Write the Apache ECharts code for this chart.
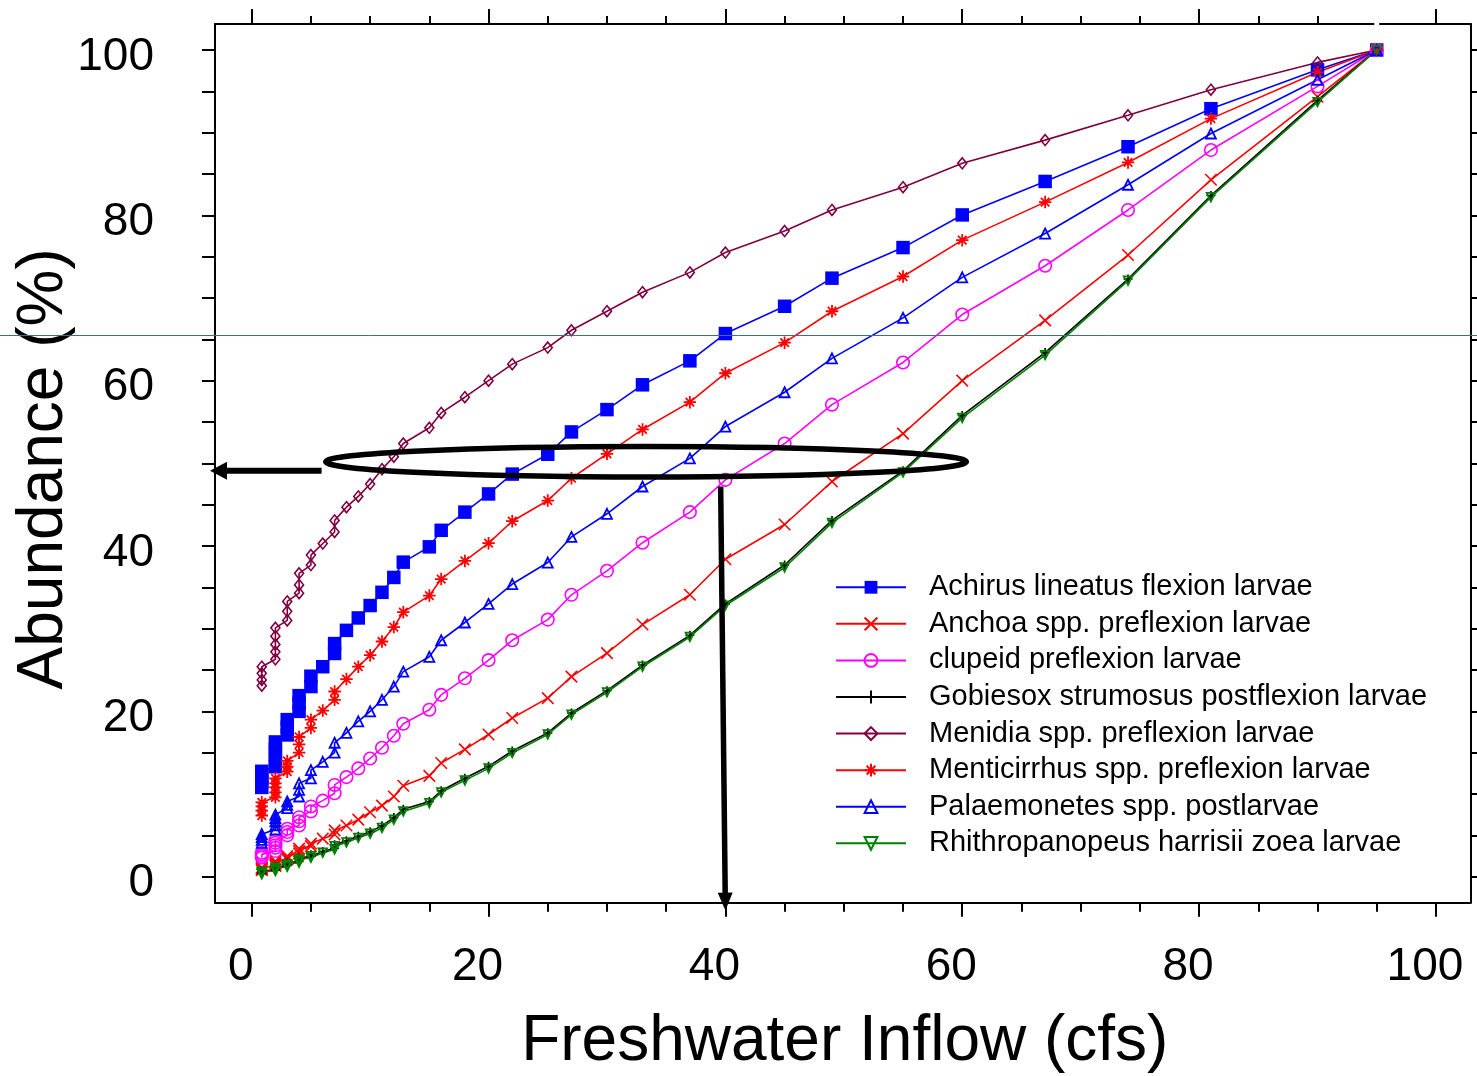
<!DOCTYPE html>
<html><head><meta charset="utf-8">
<script src="https://cdn.jsdelivr.net/npm/echarts@6/dist/echarts.min.js"></script>
<style>html,body{margin:0;padding:0;background:#fff}#c{width:1477px;height:1076px}</style>
</head><body><div id="c"></div>
<script>
// ---- data ----
const inflow = [0.85,0.85,0.85,0.85, 2,2,2,2,2, 3,3,3, 4,4,4, 5,5, 6, 7,7, 8, 9, 10, 11, 12, 12.8,
  15, 16, 18, 20, 22, 25, 27, 30, 33, 37, 40, 45, 49, 55, 60, 67, 74, 81, 90, 95];
const achirus = [10.8,11.5,12.1,12.75, 13.3,14.0,14.8,15.5,16.3, 17.15,18.1,19.0, 20.0,21.0,21.9, 23.0,24.25, 25.4, 27.0,28.2,
  29.8,31.3,32.8,34.4,36.2,38.05, 39.9,41.9,44.1,46.3,48.7,51.1,53.8,56.5,59.5,62.4, 65.7,69.0,72.4,76.1,80.05,84.1,88.3,92.9,97.6,100];
const anchoa = [0.8,0.9,1.0,1.1, 1.3,1.45,1.6,1.75,1.9, 2.1,2.3,2.5, 2.8,3.1,3.4, 3.7,4.0, 4.6, 5.1,5.6,
  6.2,6.9,7.8,8.6,9.7,11.0, 12.2,13.75,15.4,17.2,19.2,21.6,24.2,27.05,30.5,34.1, 38.4,42.6,47.8,53.6,60.0,67.3,75.2,84.3,94.35,100];
const clupeid = [2.3,2.5,2.7,2.9, 3.1,3.5,3.8,4.1,4.4, 5.0,5.4,5.8, 6.2,6.7,7.2, 7.9,8.5, 9.2, 10.1,11.1,
  12.05,13.1,14.3,15.6,17.05,18.5, 20.2,22.0,24.0,26.2,28.6,31.1,34.1,37.0,40.4,44.1, 48.0,52.4,57.1,62.2,68.0,73.9,80.65,87.9,95.6,100];
const gobiesox = [0.4,0.5,0.6,0.7, 0.8,0.9,1.0,1.1,1.2, 1.35,1.5,1.65, 1.85,2.05,2.25, 2.45,2.65, 3.05, 3.45,3.85,
  4.35,4.9,5.45,6.15,7.15,8.15, 9.1,10.4,11.9,13.35,15.2,17.4,19.8,22.5,25.6,29.2, 33.0,37.7,43.1,49.1,55.8,63.4,72.3,82.4,93.9,100];
const menidia = [23.1,23.8,24.6,25.4, 26.3,27.2,28.1,29.1,30.1, 31.0,32.1,33.3, 34.3,35.3,36.7, 37.7,38.9, 40.3, 41.7,43.1,
  44.7,46.0,47.5,49.3,50.8,52.4, 54.3,56.1,58.0,60.0,62.0,64.0,66.1,68.4,70.7,73.1, 75.5,78.1,80.65,83.4,86.3,89.1,92.1,95.2,98.5,100];
const menticirrhus = [7.4,8.0,8.5,9.0, 9.6,10.2,10.8,11.3,11.9, 12.7,13.3,14.0, 15.0,16.0,16.9, 18.0,19.0, 20.1, 21.4,22.4,
  23.9,25.4,26.8,28.45,30.2,32.0, 34.0,36.0,38.2,40.35,43.0,45.5,48.2,51.15,54.1,57.4, 60.9,64.6,68.4,72.6,77.0,81.6,86.4,91.7,97.3,100];
const palaemonetes = [4.1,4.45,4.8,5.15, 5.7,6.2,6.7,7.1,7.5, 8.3,8.7,9.1, 9.7,10.5,11.3, 11.9,12.9, 13.9, 15.0,16.2,
  17.4,18.8,20.0,21.4,23.0,24.8, 26.6,28.6,30.75,33.0,35.4,38.0,41.1,43.9,47.2,50.6, 54.45,58.6,62.7,67.6,72.5,77.8,83.7,89.9,96.4,100];
const rhithro = [0.3,0.4,0.5,0.6, 0.7,0.8,0.9,1.0,1.1, 1.2,1.35,1.5, 1.7,1.9,2.1, 2.3,2.5, 2.9, 3.3,3.7,
  4.15,4.7,5.2,5.9,6.9,7.9, 8.9,10.2,11.65,13.1,14.95,17.2,19.6,22.3,25.4,29.0, 32.8,37.4,42.8,48.9,55.5,63.1,72.1,82.2,93.7,100];

const seriesNames = ['Achirus lineatus flexion larvae','Anchoa spp. preflexion larvae','clupeid preflexion larvae',
  'Gobiesox strumosus postflexion larvae','Menidia spp. preflexion larvae','Menticirrhus spp. preflexion larvae',
  'Palaemonetes spp. postlarvae','Rhithropanopeus harrisii zoea larvae'];

const xLabelTicks = [0,20,40,60,80,100];
const xMinorTicks = [0,5,10,15,20,25,30,35,40,45,50,55,60,65,70,75,80,85,90,95,100];
const xTopMinorTicks = [0,5,10,15,20,25,30,35,40,45,50,55,60,65,70,75,80,85,90,100];
const yLabelTicks = [0,20,40,60,80,100];
const yMinorTicks = [0,5,10,15,20,25,30,35,40,45,50,55,60,65,70,75,80,85,90,95,100];

// annotations in data units
const annEllipse = {cx: 33.3, cy: 50.2, rx: 27.05, ry: 1.85};
const annArrowH = {from: [5.9, 49.1], to: [-3.52, 49.1]};
const annArrowV = {from: [39.6, 47.2], to: [40.0, -4.1]};
const refLineY = 65.5;

// ---- chart ----
const FONT = '"Liberation Sans", Arial, Helvetica, sans-serif';
const xMin = -3.10, xMax = 102.92, yMin = -3.145, yMax = 103.145;
const chart = echarts.init(document.getElementById('c'), null, {renderer: 'canvas'});

const SYM = {
  cross: 'path://M0,0L10,10M10,0L0,10',
  plus: 'path://M5,0L5,10M0,5L10,5',
  star: 'path://M5,0L5,10M0,5L10,5M1.6,1.6L8.4,8.4M8.4,1.6L1.6,8.4',
  diamond: 'path://M5,0L10,5L5,10L0,5Z',
  tri: 'path://M5,0L10,10L0,10Z',
  itri: 'path://M0,0L10,0L5,10Z',
  circle: 'path://M10,5A5,5,0,1,1,0,5A5,5,0,1,1,10,5Z'
};

function pairs(ys) { return inflow.map((x, i) => [x, ys[i]]); }
function mk(name, ys, color, symbol, size, filled, bw) {
  return {
    name, type: 'line', data: pairs(ys), symbol, symbolSize: size, showAllSymbol: true,
    lineStyle: {color, width: 1.6},
    itemStyle: filled ? {color, borderWidth: 0} : {color: 'rgba(0,0,0,0)', borderColor: color, borderWidth: bw || 1.6},
    emphasis: {disabled: true}, silent: true, animation: false, clip: false
  };
}

const series = [
  mk(seriesNames[0], achirus, '#0000ff', 'rect', 13.5, true),
  mk(seriesNames[1], anchoa, '#ff0000', SYM.cross, 11.5, false),
  mk(seriesNames[2], clupeid, '#ff00ff', SYM.circle, 12.5, false),
  mk(seriesNames[3], gobiesox, '#000000', SYM.plus, 9, false),
  mk(seriesNames[4], menidia, '#800040', SYM.diamond, [9, 11], false),
  mk(seriesNames[5], menticirrhus, '#ff0000', SYM.star, 12.5, false, 1.8),
  mk(seriesNames[6], palaemonetes, '#0000ff', SYM.tri, 10, false, 1.8),
  mk(seriesNames[7], rhithro, '#008000', SYM.itri, 8.5, false, 1.8)
];

const axisLineStyle = {color: '#000', width: 2};
const baseX = {type: 'value', min: xMin, max: xMax, splitLine: {show: false}, gridIndex: 0};
const baseY = {type: 'value', min: yMin, max: yMax, splitLine: {show: false}, gridIndex: 0};

const option = {
  backgroundColor: '#fff',
  animation: false,
  grid: {left: 215, right: 6.5, top: 24, bottom: 173.3, containLabel: false, outerBoundsMode: 'none'},
  xAxis: [
    Object.assign({}, baseX, {
      position: 'bottom',
      axisLine: {show: true, onZero: false, lineStyle: axisLineStyle},
      axisTick: {show: true, customValues: xMinorTicks, length: 9, lineStyle: axisLineStyle},
      axisLabel: {show: true, customValues: xLabelTicks, fontSize: 46, color: '#000', fontFamily: FONT, margin: 42, padding: [0, 22, 0, 0]},
      name: 'Freshwater Inflow (cfs)', nameLocation: 'middle', nameGap: 108, nameMoveOverlap: false,
      nameTextStyle: {fontSize: 64, color: '#000', fontFamily: FONT, padding: [0, 0, 0, 4]}
    }),
    Object.assign({}, baseX, {
      position: 'bottom',
      axisLine: {show: false, onZero: false},
      axisTick: {show: true, customValues: xLabelTicks, length: 14, lineStyle: axisLineStyle},
      axisLabel: {show: false}
    }),
    Object.assign({}, baseX, {
      position: 'top',
      axisLine: {show: true, onZero: false, lineStyle: axisLineStyle},
      axisTick: {show: true, customValues: xTopMinorTicks, length: 8, lineStyle: axisLineStyle},
      axisLabel: {show: false}
    }),
    Object.assign({}, baseX, {
      position: 'top',
      axisLine: {show: false, onZero: false},
      axisTick: {show: true, customValues: xLabelTicks, length: 15, lineStyle: axisLineStyle},
      axisLabel: {show: false}
    })
  ],
  yAxis: [
    Object.assign({}, baseY, {
      position: 'left',
      axisLine: {show: true, onZero: false, lineStyle: axisLineStyle},
      axisTick: {show: true, customValues: yMinorTicks, length: 13, lineStyle: axisLineStyle},
      axisLabel: {show: true, customValues: yLabelTicks, fontSize: 46, color: '#000', fontFamily: FONT, margin: 61,
        verticalAlign: 'top', lineHeight: 14},
      name: 'Abundance (%)', nameLocation: 'middle', nameGap: 139, nameRotate: 90, nameMoveOverlap: false,
      nameTextStyle: {fontSize: 64, color: '#000', fontFamily: FONT, padding: [0, 11, 0, 0]}
    }),
    Object.assign({}, baseY, {
      position: 'right',
      axisLine: {show: true, onZero: false, lineStyle: axisLineStyle},
      axisTick: {show: true, customValues: yMinorTicks, length: 8, lineStyle: axisLineStyle},
      axisLabel: {show: false}
    })
  ],
  legend: {
    orient: 'vertical', left: 835, top: 569, padding: 0, itemGap: 0,
    itemWidth: 70, itemHeight: 16, selectedMode: false,
    data: seriesNames,
    textStyle: {fontSize: 29, color: '#000', fontFamily: FONT, lineHeight: 36.57, padding: [0, 0, 0, 18]}
  },
  series: series
};
chart.setOption(option);

// ---- annotations (positions derived from data coordinates) ----
function px(p) { return chart.convertToPixel({xAxisIndex: 0, yAxisIndex: 0}, p); }
function arrow(a0, b0, width, headLen, headHalf) {
  const a = px(a0), b = px(b0);
  const dx = b[0] - a[0], dy = b[1] - a[1], L = Math.hypot(dx, dy);
  const ux = dx / L, uy = dy / L, nx = -uy, ny = ux;
  const base = [b[0] - ux * headLen, b[1] - uy * headLen];
  return [
    {type: 'line', z: 100, shape: {x1: a[0], y1: a[1], x2: base[0] + ux * 2, y2: base[1] + uy * 2},
      style: {stroke: '#000', lineWidth: width}},
    {type: 'polygon', z: 100, shape: {points: [[b[0], b[1]],
      [base[0] + nx * headHalf, base[1] + ny * headHalf], [base[0] - nx * headHalf, base[1] - ny * headHalf]]},
      style: {fill: '#000'}}
  ];
}
const ec = px([annEllipse.cx, annEllipse.cy]);
const erx = px([annEllipse.cx + annEllipse.rx, annEllipse.cy])[0] - ec[0];
const ery = ec[1] - px([annEllipse.cx, annEllipse.cy + annEllipse.ry])[1];
const ry0 = Math.round(px([0, refLineY])[1]) + 0.5;
const gapPt = px([95, yMax]);

chart.setOption({
  graphic: {elements: [
    {type: 'line', z: 50, shape: {x1: 0, y1: ry0, x2: 1477, y2: ry0}, style: {stroke: '#3b6e8f', lineWidth: 1}},
    {type: 'ellipse', z: 100, shape: {cx: ec[0], cy: ec[1], rx: erx, ry: ery}, style: {fill: null, stroke: '#000', lineWidth: 5.5}},
    ...arrow(annArrowH.from, annArrowH.to, 6, 17, 9),
    ...arrow(annArrowV.from, annArrowV.to, 5.5, 18, 7.5),
    {type: 'rect', z: 60, shape: {x: gapPt[0] - 2.5, y: gapPt[1] - 2, width: 5, height: 4}, style: {fill: '#fff'}}
  ]}
});
</script>
</body></html>
